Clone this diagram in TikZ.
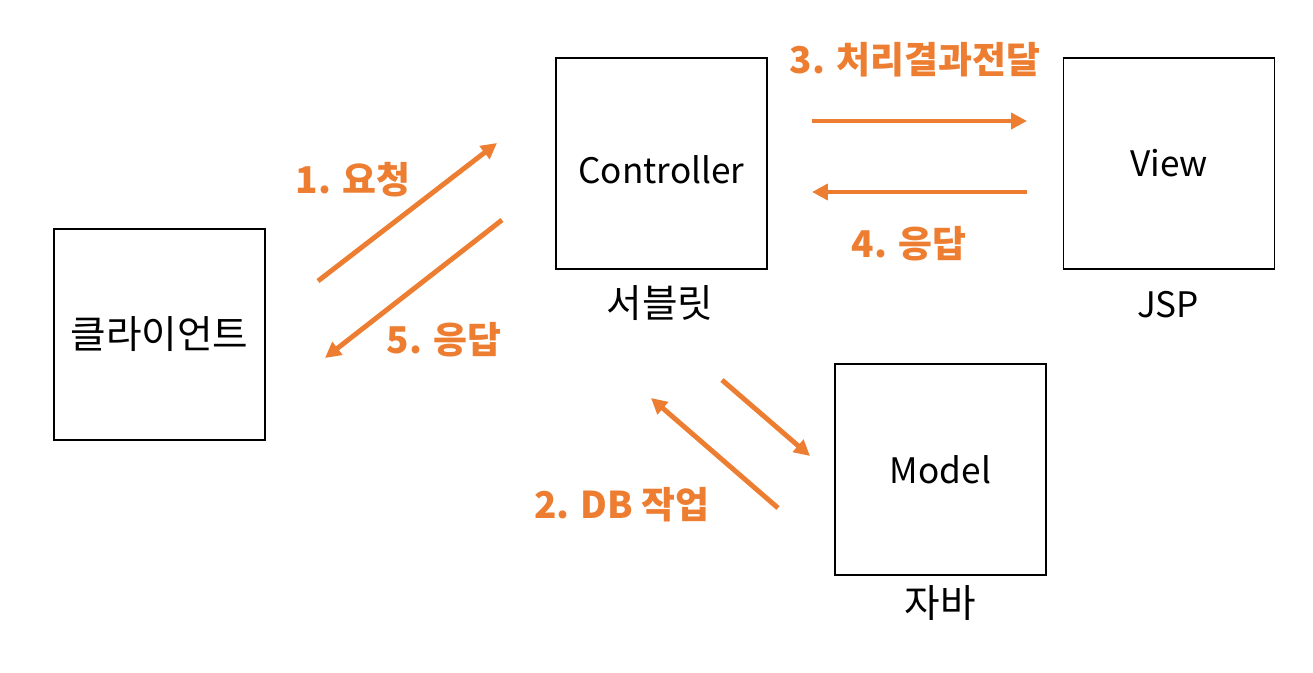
\documentclass[tikz,border=0pt]{standalone}
\usepackage{fontspec}
\setmainfont{Noto Sans CJK KR}
\usetikzlibrary{arrows.meta}
\definecolor{flow}{RGB}{237,125,49}
\tikzset{
  box/.style={draw=black, line width=1.1pt, minimum size=4.22cm, inner sep=0pt, font=\fontsize{20}{24}\selectfont},
  boxcaption/.style={font=\fontsize{20}{24}\selectfont},
  flowarrow/.style={draw=flow, line width=2.8pt, -{Triangle[length=9pt,width=9pt]}},
  flowlabel/.style={text=flow, font=\bfseries\fontsize{21}{25}\selectfont}
}

\begin{document}
\begin{tikzpicture}[x=0.02cm, y=-0.02cm]
\useasboundingbox (0,0) rectangle (1313,673);

\node[box, font=\fontsize{22}{26}\selectfont] (client) at (159.5,334.5){클라이언트};
\node[box] (ctrl) at (661.5,163.5){\raisebox{-11.5pt}[0pt][0pt]{Controller}};
\node[box] (view) at (1169,163.5){View};
\node[box] (model) at (940.5,469.5){Model};

\node[boxcaption, font=\fontsize{22}{26}\selectfont] (ctrlcap) at (660,303){서블릿};
\node[boxcaption] (viewcap) at (1168,305){JSP};
\node[boxcaption, font=\fontsize{22}{26}\selectfont] (modelcap) at (940,603){자바};

% client <-> controller
\coordinate (reqA) at (318,281);
\coordinate (reqB) at (497,143);
\coordinate (resA) at (502,220);
\coordinate (resB) at (325,358);
\draw[flowarrow] (reqA) -- (reqB);
\draw[flowarrow] (resA) -- (resB);

% controller <-> view
\coordinate (fwdA) at (812,121);
\coordinate (fwdB) at (1027,121);
\coordinate (backA) at (1027,192);
\coordinate (backB) at (812,192);
\draw[flowarrow] (fwdA) -- (fwdB);
\draw[flowarrow] (backA) -- (backB);

% controller <-> model
\coordinate (dbA) at (722,380);
\coordinate (dbB) at (810,456);
\coordinate (dbC) at (778,508);
\coordinate (dbD) at (651,398);
\draw[flowarrow] (dbA) -- (dbB);
\draw[flowarrow] (dbC) -- (dbD);

\node[flowlabel] (l1) at (353,180){1. 요청};
\node[flowlabel] (l5) at (444,340){5. 응답};
\node[flowlabel] (l3) at (915,60){3. 처리결과전달};
\node[flowlabel] (l4) at (909,244){4. 응답};
\node[flowlabel] (l2) at (622,505){2. DB 작업};

\end{tikzpicture}
\end{document}
